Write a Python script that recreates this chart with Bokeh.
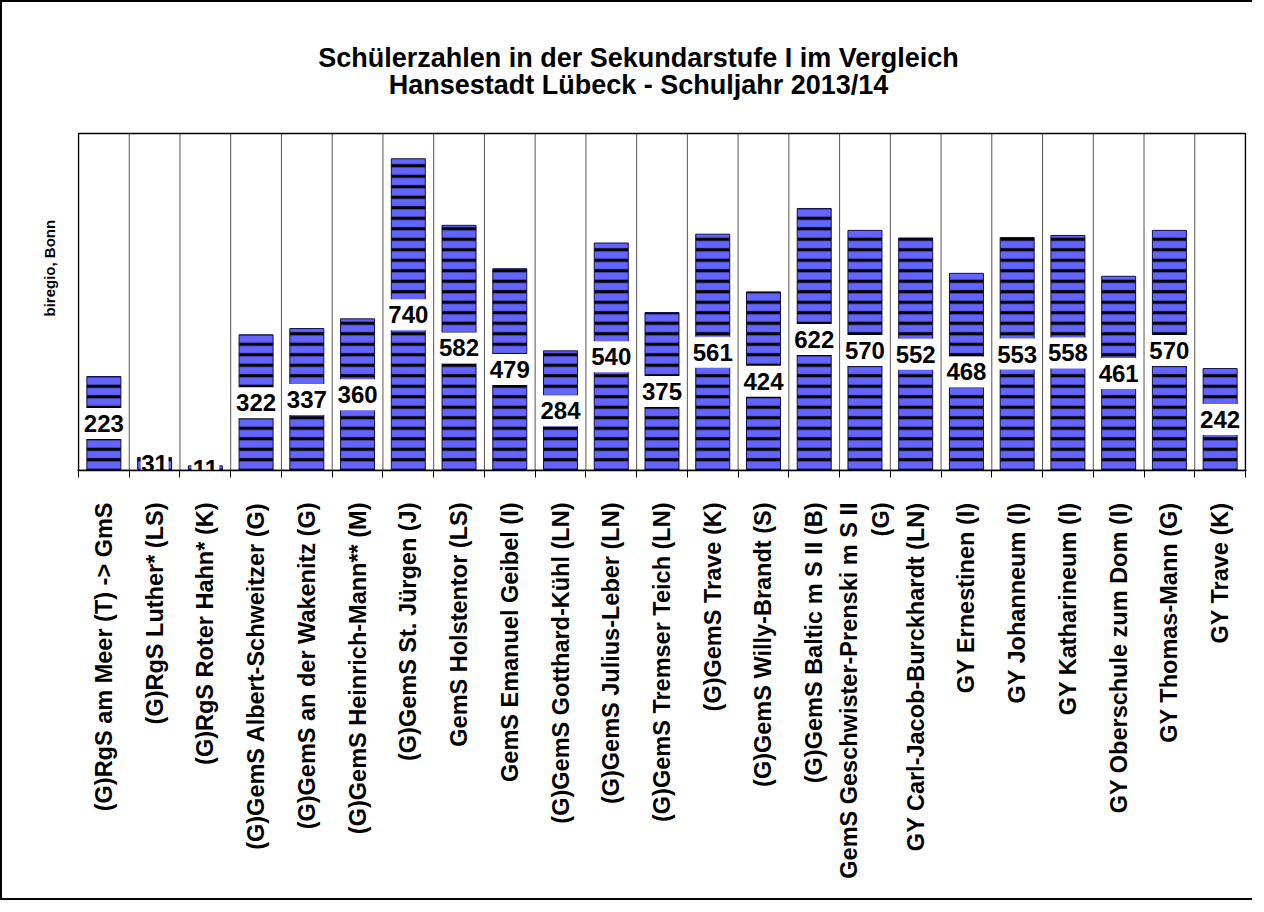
from math import pi
from bokeh.plotting import figure
from bokeh.models import (Range1d, LinearAxis, FixedTicker, Grid, ColumnDataSource,
                          LabelSet, Label, Title)
from bokeh.core.properties import value
from bokeh.embed import file_html
from bokeh.resources import INLINE

title_line1 = "Schülerzahlen in der Sekundarstufe I im Vergleich"
title_line2 = "Hansestadt Lübeck - Schuljahr 2013/14"
source_label = "biregio, Bonn"

schools = [
    "(G)RgS am Meer (T) -> GmS",
    "(G)RgS Luther* (LS)",
    "(G)RgS Roter Hahn* (K)",
    "(G)GemS Albert-Schweitzer (G)",
    "(G)GemS an der Wakenitz (G)",
    "(G)GemS Heinrich-Mann** (M)",
    "(G)GemS St. Jürgen (J)",
    "GemS Holstentor (LS)",
    "GemS Emanuel Geibel (I)",
    "(G)GemS Gotthard-Kühl (LN)",
    "(G)GemS Julius-Leber (LN)",
    "(G)GemS Tremser Teich (LN)",
    "(G)GemS Trave (K)",
    "(G)GemS Willy-Brandt (S)",
    "(G)GemS Baltic m S II (B)",
    "GemS Geschwister-Prenski m S II\n(G)",
    "GY Carl-Jacob-Burckhardt (LN)",
    "GY Ernestinen (I)",
    "GY Johanneum (I)",
    "GY Katharineum (I)",
    "GY Oberschule zum Dom (I)",
    "GY Thomas-Mann (G)",
    "GY Trave (K)",
]

students = [223, 31, 11, 322, 337, 360, 740, 582, 479, 284, 540, 375, 561, 424,
            622, 570, 552, 468, 553, 558, 461, 570, 242]

y_axis_max = 800

n = len(schools)
centers = [i + 0.5 for i in range(n)]
bounds = list(range(n + 1))

FONT = "Liberation Sans"

# layout geometry (pixels)
plot_top_px, base_px, frame_top_px = 133, 470, 12
px_per_unit = (base_px - plot_top_px) / y_axis_max
y_frame_max = (base_px - frame_top_px) / px_per_unit
px_per_cat = 50.74
x_pad = 1.0 / px_per_cat

p = figure(width=1252, height=900,
           x_range=Range1d(-x_pad, n + x_pad), y_range=Range1d(0, y_frame_max),
           output_backend="svg", toolbar_location=None,
           x_axis_location=None, y_axis_location=None, title=None,
           min_border_left=75, min_border_right=8,
           min_border_top=10, min_border_bottom=432,
           background_fill_color="white", border_fill_color="white",
           outline_line_color=None,
           styles={"border": "2px solid black", "border-right": "none"})

p.center = [c for c in p.center if not isinstance(c, Grid)]

# category separators and plot-area border
p.segment(x0=bounds[1:-1], y0=0, x1=bounds[1:-1], y1=y_axis_max,
          line_color="#555555", line_width=1)
p.quad(left=0, right=n, bottom=0, top=y_axis_max,
       fill_color=None, line_color="black", line_width=1.5)

# title lines
title_x = (638 - 78) / px_per_cat
for txt, sy in ((title_line1, 57), (title_line2, 84)):
    p.add_layout(Label(x=title_x, y=(base_px - sy) / px_per_unit, text=txt,
                       text_align="center", text_baseline="middle",
                       text_font=FONT, text_font_size="27px", text_font_style="bold",
                       text_color="black"))

# source note on the left
p.add_layout(Title(text=source_label, align="left", vertical_align="bottom",
                   offset=154, standoff=40,
                   text_font=FONT, text_font_size="15px", text_font_style="bold",
                   text_color="black"), "left")

# bars
labels_txt = [str(v) for v in students]
src = ColumnDataSource(dict(x=centers, top=students,
                            mid=[v / 2 for v in students],
                            lab=labels_txt,
                            boxw=[len(s) * 13.4 + 1 for s in labels_txt]))
p.vbar(x="x", top="top", bottom=0, width=0.67, source=src,
       fill_color="#6464ff", line_color="#10104a", line_width=1,
       hatch_pattern="horizontal_line", hatch_color="black",
       hatch_scale=10.5, hatch_weight=3.2)

# white boxes behind value labels
p.rect(x="x", y="mid", width="boxw", height=31, width_units="screen", height_units="screen",
       source=src, fill_color="white", line_color=None)

p.add_layout(LabelSet(x="x", y="mid", text="lab", source=src,
                      text_align="center", text_baseline="middle",
                      text_font=value(FONT), text_font_size="24px", text_font_style="bold",
                      text_color="black"))

# x axis: labels at category centres, tick marks at category boundaries (minor ticks)
ax = LinearAxis(ticker=FixedTicker(ticks=centers, minor_ticks=bounds),
                major_label_overrides={c: s for c, s in zip(centers, schools)},
                major_label_orientation=pi / 2,
                major_tick_line_color=None, major_tick_out=0, major_tick_in=0,
                minor_tick_line_color="black", minor_tick_out=7, minor_tick_in=0,
                axis_line_color="black", axis_line_width=1.5,
                major_label_standoff=25,
                major_label_text_font=FONT, major_label_text_font_size="23.5px",
                major_label_text_font_style="bold", major_label_text_color="black")
p.add_layout(ax, "below")

open("out.html", "w").write(file_html(p, INLINE))
